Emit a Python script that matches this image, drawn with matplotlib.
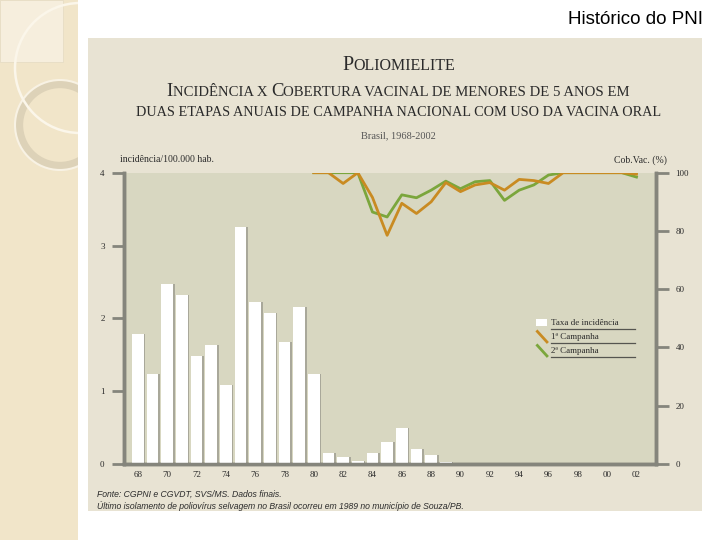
import numpy as np
import matplotlib.pyplot as plt
from matplotlib.patches import Rectangle, Circle
from matplotlib.offsetbox import TextArea, HPacker, AnnotationBbox

# dados
anos_barras = list(range(1968, 1990))
incidencia = [1.78, 1.23, 2.47, 2.32, 1.48, 1.63, 1.08, 3.25, 2.23, 2.07, 1.67,
              2.15, 1.23, 0.15, 0.09, 0.04, 0.15, 0.30, 0.49, 0.20, 0.12, 0.03]
anos_linhas = list(range(1980, 2003))
campanha1 = [100, 100, 96.3, 100, 91.5, 78.5, 89.5, 86, 90, 96.6, 93.5, 95.8,
             96.6, 94, 97.7, 97.3, 96.3, 100, 100, 100, 100, 100, 99.5]
campanha2 = [100, 100, 100, 100, 86.5, 84.8, 92.4, 91.4, 94, 97.1, 94.5, 96.9,
             97.3, 90.5, 94, 95.8, 99.2, 100, 100, 100, 100, 100, 98.5]
ticks_anos = list(range(1968, 2003, 2))
rotulos_anos = [str(a)[2:] for a in ticks_anos]
ticks_esq = [0, 1, 2, 3, 4]
ticks_dir = [0, 20, 40, 60, 80, 100]

laranja = '#c98b22'
verde = '#7ba63c'
cinza = '#85857c'
texto = '#2b2b2b'
serif = 'Liberation Serif'

fig = plt.figure(figsize=(7.2, 5.4), dpi=100)
fig.patch.set_facecolor('white')

# faixa decorativa da esquerda
fig.add_artist(Rectangle((0, 0), 78 / 720, 1, transform=fig.transFigure,
                         facecolor='#f1e5c9', edgecolor='none', zorder=0))
fig.add_artist(Rectangle((0, 1 - 62 / 540), 63 / 720, 62 / 540, transform=fig.transFigure,
                         facecolor='#f6eedd', edgecolor='#e6dcc4', lw=0.6, zorder=0))
anel = Circle((60, 540 - 125), 41, transform=None, facecolor='none',
              edgecolor='#ddd2b8', lw=6, zorder=1)
anel2 = Circle((60, 540 - 125), 45, transform=None, facecolor='none',
               edgecolor='#f8f2e4', lw=1.5, zorder=1)
arco = Circle((80, 540 - 68), 65, transform=None, facecolor='none',
              edgecolor='#fbf6ea', lw=1.8, zorder=1)
for p in (anel, anel2, arco):
    fig.add_artist(p)
    p.set_clip_path(Rectangle((0, 0), 78 / 720, 1, transform=fig.transFigure))

# fundo da figura escaneada
fig.add_artist(Rectangle((88 / 720, 1 - 511 / 540), 614 / 720, 473 / 540,
                         transform=fig.transFigure, facecolor='#e8e3d3',
                         edgecolor='none', zorder=0))

fig.text(0.976, 0.963, 'Histórico do PNI', ha='right', va='center',
         fontsize=13.5, family='Liberation Sans', color='black')


def versalete(x, y, frase, grande, pequeno, cor=texto):
    # versalete: maiusculas grandes, minusculas viram maiusculas pequenas
    partes = []
    atual = frase[0]
    for c in frase[1:]:
        if c.isupper() == atual[-1].isupper():
            atual += c
        else:
            partes.append(atual)
            atual = c
    partes.append(atual)
    caixas = [TextArea(p.upper(), textprops=dict(
        fontsize=grande if p[0].isupper() else pequeno, family=serif, color=cor))
        for p in partes]
    pacote = HPacker(children=caixas, align='baseline', pad=0, sep=0)
    ab = AnnotationBbox(pacote, (x, y), xycoords='figure fraction', frameon=False,
                        box_alignment=(0.5, 0.5), pad=0)
    fig.add_artist(ab)


versalete(0.554, 1 - 65 / 540, 'Poliomielite', 14.5, 11.5)
versalete(0.553, 1 - 91 / 540, 'Incidência x Cobertura vacinal de menores de 5 anos em', 13.5, 10.6)
versalete(0.553, 1 - 113 / 540, 'duas etapas anuais de campanha nacional com uso da vacina oral', 13, 10.3)
fig.text(0.553, 1 - 136 / 540, 'Brasil, 1968-2002', ha='center', va='center',
         fontsize=7.5, family=serif, color='#555555')

# eixos
ax = fig.add_axes([124 / 720, 1 - 464 / 540, 532 / 720, (464 - 172.7) / 540])
ax.set_facecolor('#d8d7c1')
ax.bar(np.array(anos_barras) + 0.12, incidencia, width=0.78, color='#a9a89a',
       zorder=2)
ax.bar(anos_barras, incidencia, width=0.78, color='white', zorder=3)
ax.set_xlim(1967.06, 2003.33)
ax.set_ylim(0, 4)
ax.set_xticks(ticks_anos)
ax.set_xticklabels(rotulos_anos, fontsize=6.5, family=serif, color=texto)
ax.set_yticks(ticks_esq)
ax.set_yticklabels([str(t) for t in ticks_esq], fontsize=6.5, family=serif, color=texto)
ax.tick_params(axis='x', length=0, pad=5)
ax.tick_params(axis='y', length=9, width=2, color=cinza, pad=5)

ax2 = ax.twinx()
ax2.plot(anos_linhas, campanha2, color=verde, lw=2, zorder=4)
ax2.plot(anos_linhas, campanha1, color=laranja, lw=2, zorder=5)
ax2.set_ylim(0, 100)
ax2.set_yticks(ticks_dir)
ax2.set_yticklabels([str(t) for t in ticks_dir], fontsize=6.5, family=serif, color=texto)
ax2.tick_params(axis='y', length=9, width=2, color=cinza, pad=5)

for a in (ax, ax2):
    a.spines['top'].set_visible(False)
    for s in ('left', 'right', 'bottom'):
        a.spines[s].set_color(cinza)
        a.spines[s].set_linewidth(2.5)

fig.text(120 / 720, 1 - 160 / 540, 'incidência/100.000 hab.', ha='left', va='center',
         fontsize=7, family=serif, color=texto)
fig.text(667 / 720, 1 - 160 / 540, 'Cob.Vac. (%)', ha='right', va='center',
         fontsize=7, family=serif, color=texto)

# legenda desenhada a mao
lx, ly, dy = 0.775, 0.485, 0.048
ax2.add_patch(Rectangle((lx, ly - 0.012), 0.02, 0.024, transform=ax2.transAxes,
                        facecolor='white', edgecolor='none', zorder=6))
ax2.plot([lx + 0.002, lx + 0.02], [ly - dy + 0.018, ly - dy - 0.018], transform=ax2.transAxes,
         color=laranja, lw=2, zorder=6)
ax2.plot([lx + 0.002, lx + 0.02], [ly - 2 * dy + 0.018, ly - 2 * dy - 0.018], transform=ax2.transAxes,
         color=verde, lw=2, zorder=6)
for i, nome in enumerate(['Taxa de incidência', '1ª Campanha', '2ª Campanha']):
    yy = ly - i * dy
    ax2.text(lx + 0.028, yy, nome, transform=ax2.transAxes, ha='left', va='center',
             fontsize=6.5, family=serif, color=texto, zorder=6)
    ax2.plot([lx + 0.028, lx + 0.185], [yy - 0.022, yy - 0.022], transform=ax2.transAxes,
             color='#555550', lw=0.9, zorder=6)

fig.text(97 / 720, 1 - 494 / 540, 'Fonte: CGPNI e CGVDT, SVS/MS. Dados finais.',
         ha='left', va='center', fontsize=6.2, family='Liberation Sans', style='italic',
         color=texto)
fig.text(97 / 720, 1 - 506 / 540,
         'Último isolamento de poliovírus selvagem no Brasil ocorreu em 1989 no município de Souza/PB.',
         ha='left', va='center', fontsize=6.2, family='Liberation Sans', style='italic',
         color=texto)

fig.savefig('out.png', dpi=100)
